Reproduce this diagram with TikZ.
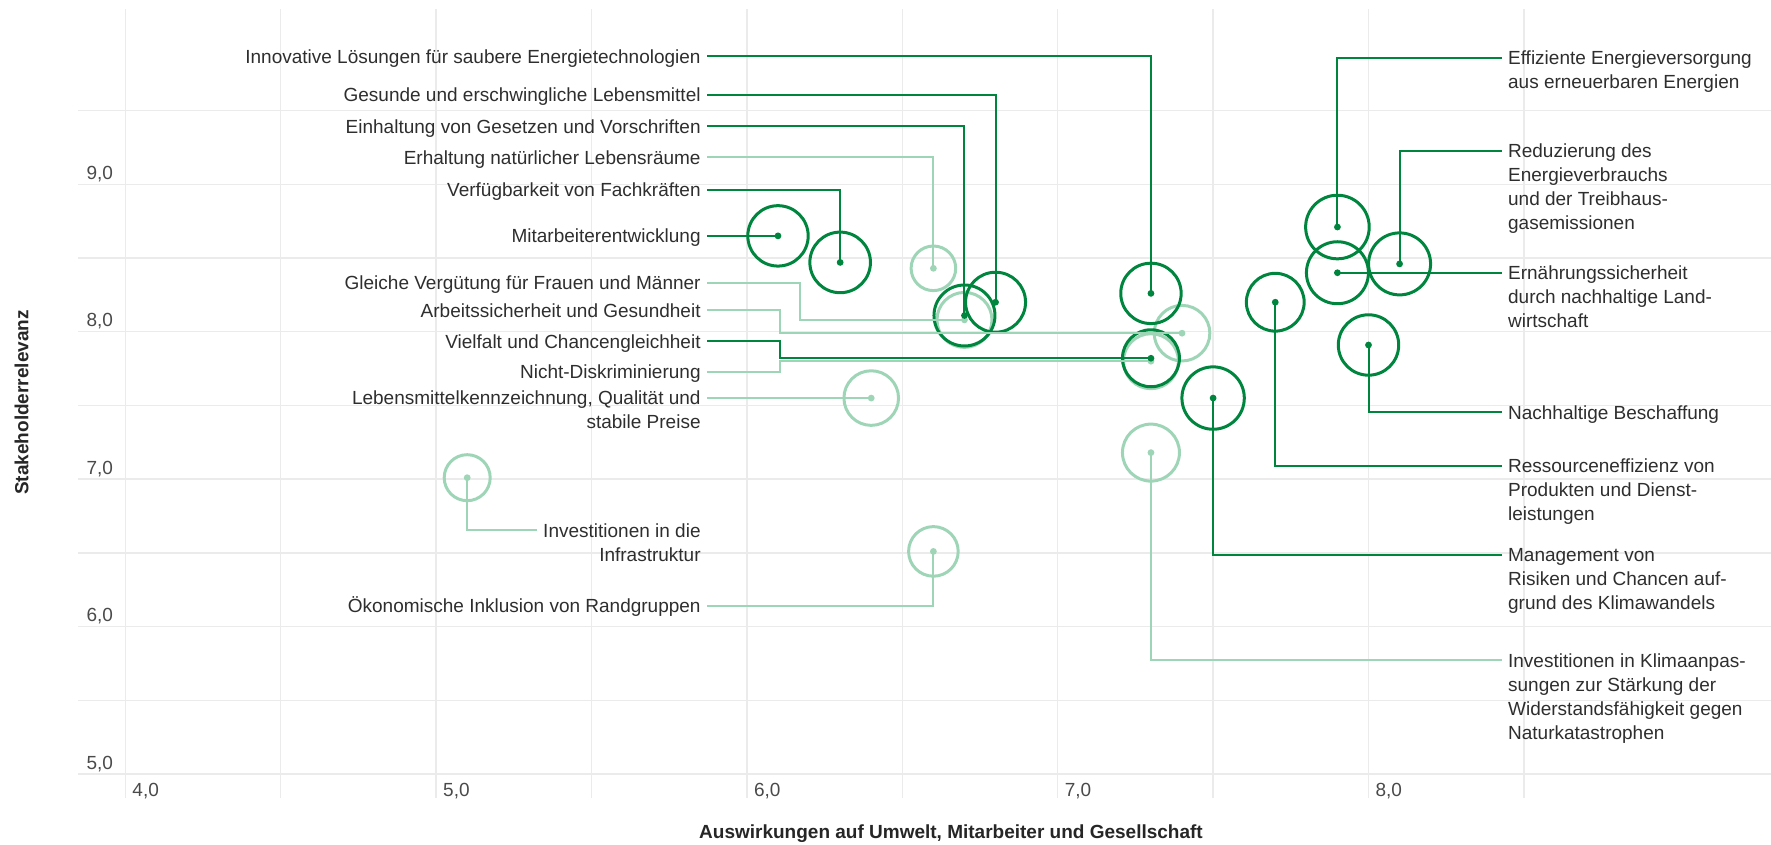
\documentclass[tikz,border=0pt]{standalone}
\usepackage{fontspec}
\setmainfont{Liberation Sans}
\usepackage{tikz}
\usepackage{xcolor}
\definecolor{dkgreen}{HTML}{00853E}
\definecolor{ltgreen}{HTML}{9FD5B7}
\definecolor{gridgray}{HTML}{EBEBEB}
\definecolor{txtgray}{HTML}{2E2E2E}
\definecolor{tickgray}{HTML}{4A4A4A}
\newcommand{\leftlines}[1]{\begin{tabular}[t]{@{}r@{}}#1\end{tabular}}
\newcommand{\rightlines}[1]{\begin{tabular}[t]{@{}l@{}}#1\end{tabular}}

\begin{document}
\begin{tikzpicture}[x=155.4pt,y=73.725pt,
  font=\fontsize{9.5}{12}\selectfont,text=txtgray,
  gridln/.style={gridgray,line width=0.75pt},
  dkbub/.style={circle,draw=dkgreen,line width=1.5pt,inner sep=0pt,minimum size=#1},
  ltbub/.style={circle,draw=ltgreen,line width=1.5pt,inner sep=0pt,minimum size=#1},
  dkln/.style={dkgreen,line width=1pt},
  ltln/.style={ltgreen,line width=1pt},
  ltxt/.style={anchor=base east,yshift=-3.4pt,inner xsep=3pt,inner ysep=0pt},
  rtxt/.style={anchor=base west,yshift=-3.4pt,inner xsep=3pt,inner ysep=0pt},
  tick/.style={text=tickgray,inner sep=0pt},
  axtitle/.style={font=\bfseries\fontsize{9.5}{12}\selectfont,text=black!85,inner sep=0pt,anchor=base}]
\useasboundingbox (3.5968,4.5191) rectangle (9.2951,10.2499);

\draw[gridln] (4,4.837) -- (4,10.19);
\draw[gridln] (4.5,4.837) -- (4.5,10.19);
\draw[gridln] (5,4.837) -- (5,10.19);
\draw[gridln] (5.5,4.837) -- (5.5,10.19);
\draw[gridln] (6,4.837) -- (6,10.19);
\draw[gridln] (6.5,4.837) -- (6.5,10.19);
\draw[gridln] (7,4.837) -- (7,10.19);
\draw[gridln] (7.5,4.837) -- (7.5,10.19);
\draw[gridln] (8,4.837) -- (8,10.19);
\draw[gridln] (8.5,4.837) -- (8.5,10.19);
\draw[gridln] (3.847,5) -- (9.2951,5);
\draw[gridln] (3.847,5.5) -- (9.2951,5.5);
\draw[gridln] (3.847,6) -- (9.2951,6);
\draw[gridln] (3.847,6.5) -- (9.2951,6.5);
\draw[gridln] (3.847,7) -- (9.2951,7);
\draw[gridln] (3.847,7.5) -- (9.2951,7.5);
\draw[gridln] (3.847,8) -- (9.2951,8);
\draw[gridln] (3.847,8.5) -- (9.2951,8.5);
\draw[gridln] (3.847,9) -- (9.2951,9);
\draw[gridln] (3.847,9.5) -- (9.2951,9.5);

\node[tick,anchor=base east] (y5) at (3.9614,5.034) {5,0};
\node[tick,anchor=base east] (y6) at (3.9614,6.034) {6,0};
\node[tick,anchor=base east] (y7) at (3.9614,7.034) {7,0};
\node[tick,anchor=base east] (y8) at (3.9614,8.034) {8,0};
\node[tick,anchor=base east] (y9) at (3.9614,9.034) {9,0};
\node[tick,anchor=base west] (x4) at (4.0216,4.8467) {4,0};
\node[tick,anchor=base west] (x5) at (5.0216,4.8467) {5,0};
\node[tick,anchor=base west] (x6) at (6.0216,4.8467) {6,0};
\node[tick,anchor=base west] (x7) at (7.0216,4.8467) {7,0};
\node[tick,anchor=base west] (x8) at (8.0216,4.8467) {8,0};
\node[axtitle] (xtitle) at (6.6567,4.5619) {Auswirkungen auf Umwelt, Mitarbeiter und Gesellschaft};
\node[axtitle,rotate=90] (ytitle) at (3.6879,7.52) {Stakeholderrelevanz};

\node[ltbub=22.3pt] (natur) at (6.6,8.43) {};
\node[ltbub=27.5pt] (verguet) at (6.7,8.08) {};
\node[ltbub=27.8pt] (arbsich) at (7.4,7.99) {};
\node[ltbub=27.5pt] (diskr) at (7.3,7.8) {};
\node[ltbub=27.3pt] (kennz) at (6.4,7.55) {};
\node[ltbub=23pt] (infra) at (5.1,7.01) {};
\node[ltbub=24.8pt] (inklus) at (6.6,6.51) {};
\node[ltbub=28.5pt] (klimaanp) at (7.3,7.18) {};

\node[dkbub=30.2pt] (inno) at (7.3,8.26) {};
\node[dkbub=30pt] (gesund) at (6.8,8.2) {};
\node[dkbub=30.5pt] (gesetz) at (6.7,8.11) {};
\node[dkbub=30.3pt] (fachkr) at (6.3,8.47) {};
\node[dkbub=30.2pt] (mitarb) at (6.1,8.65) {};
\node[dkbub=28.5pt] (vielfalt) at (7.3,7.82) {};
\node[dkbub=31.8pt] (effiz) at (7.9,8.71) {};
\node[dkbub=31pt] (reduz) at (8.1,8.46) {};
\node[dkbub=31pt] (ernaehr) at (7.9,8.4) {};
\node[dkbub=30.2pt] (beschaff) at (8,7.91) {};
\node[dkbub=28.9pt] (ressour) at (7.7,8.2) {};
\node[dkbub=31.2pt] (klimarisk) at (7.5,7.55) {};

\node[ltxt] (innotxt) at (5.8716,9.8667) {Innovative Lösungen für saubere Energietechnologien};
\node[ltxt] (gesundtxt) at (5.8716,9.6056) {Gesunde und erschwingliche Lebensmittel};
\node[ltxt] (gesetztxt) at (5.8716,9.3934) {Einhaltung von Gesetzen und Vorschriften};
\node[ltxt] (naturtxt) at (5.8716,9.1831) {Erhaltung natürlicher Lebensräume};
\node[ltxt] (fachkrtxt) at (5.8716,8.9613) {Verfügbarkeit von Fachkräften};
\node[ltxt] (mitarbtxt) at (5.8716,8.65) {Mitarbeiterentwicklung};
\node[ltxt] (verguettxt) at (5.8716,8.3306) {Gleiche Vergütung für Frauen und Männer};
\node[ltxt] (arbsichtxt) at (5.8716,8.1455) {Arbeitssicherheit und Gesundheit};
\node[ltxt] (vielfalttxt) at (5.8716,7.9352) {Vielfalt und Chancengleichheit};
\node[ltxt] (diskrtxt) at (5.8716,7.727) {Nicht-Diskriminierung\ };
\node[ltxt] (kennztxt) at (5.8716,7.55) {\leftlines{Lebensmittelkennzeichnung, Qualität und\\stabile Preise}};
\node[ltxt] (infratxt) at (5.8716,6.6534) {\leftlines{Investitionen in die\\Infrastruktur}};
\node[ltxt] (inklustxt) at (5.8716,6.14) {Ökonomische Inklusion von Randgruppen};

\node[rtxt] (effiztxt) at (8.4286,9.8586) {\rightlines{Effiziente Energieversorgung\\aus erneuerbaren Energien}};
\node[rtxt] (reduztxt) at (8.4286,9.2279) {\rightlines{Reduzierung des\\Energieverbrauchs\\und der Treibhaus-\\gasemissionen}};
\node[rtxt] (ernaehrtxt) at (8.4286,8.4) {\rightlines{Ernährungssicherheit\\durch nachhaltige Land-\\wirtschaft}};
\node[rtxt] (beschafftxt) at (8.4286,7.4537) {Nachhaltige Beschaffung};
\node[rtxt] (ressourtxt) at (8.4286,7.0895) {\rightlines{Ressourceneffizienz von\\Produkten und Dienst-\\leistungen}};
\node[rtxt] (klimarisktxt) at (8.4286,6.4859) {\rightlines{Management von\\Risiken und Chancen auf-\\grund des Klimawandels}};
\node[rtxt] (klimaanptxt) at (8.4286,5.7718) {\rightlines{Investitionen in Klimaanpas-\\sungen zur Stärkung der\\Widerstandsfähigkeit gegen\\Naturkatastrophen}};

\draw[ltln] ([yshift=3.4pt]naturtxt.base east) -| (natur.center);
\draw[ltln] (verguet.center) -| (6.17,8.3306) -- ([yshift=3.4pt]verguettxt.base east);
\draw[ltln] (arbsich.center) -| (6.108,8.1455) -- ([yshift=3.4pt]arbsichtxt.base east);
\draw[ltln] (diskr.center) -| (6.108,7.727) -- ([yshift=3.4pt]diskrtxt.base east);
\draw[ltln] ([yshift=3.4pt]kennztxt.base east) -| (kennz.center);
\draw[ltln] (infra.center) |- ([yshift=3.4pt]infratxt.base west);
\draw[ltln] ([yshift=3.4pt]inklustxt.base east) -| (inklus.center);
\draw[ltln] (klimaanp.center) |- ([yshift=3.4pt]klimaanptxt.base west);
\fill[ltgreen] (natur) circle (1.7pt);
\fill[ltgreen] (verguet) circle (1.7pt);
\fill[ltgreen] (arbsich) circle (1.7pt);
\fill[ltgreen] (diskr) circle (1.7pt);
\fill[ltgreen] (kennz) circle (1.7pt);
\fill[ltgreen] (infra) circle (1.7pt);
\fill[ltgreen] (inklus) circle (1.7pt);
\fill[ltgreen] (klimaanp) circle (1.7pt);

\draw[dkln] ([yshift=3.4pt]innotxt.base east) -| (inno.center);
\draw[dkln] ([yshift=3.4pt]gesundtxt.base east) -| (gesund.center);
\draw[dkln] ([yshift=3.4pt]gesetztxt.base east) -| (gesetz.center);
\draw[dkln] ([yshift=3.4pt]fachkrtxt.base east) -| (fachkr.center);
\draw[dkln] ([yshift=3.4pt]mitarbtxt.base east) -- (mitarb.center);
\draw[dkln] (vielfalt.center) -| (6.108,7.9352) -- ([yshift=3.4pt]vielfalttxt.base east);
\draw[dkln] (effiz.center) |- ([yshift=3.4pt]effiztxt.base west);
\draw[dkln] (reduz.center) |- ([yshift=3.4pt]reduztxt.base west);
\draw[dkln] (ernaehr.center) -- ([yshift=3.4pt]ernaehrtxt.base west);
\draw[dkln] (beschaff.center) |- ([yshift=3.4pt]beschafftxt.base west);
\draw[dkln] (ressour.center) |- ([yshift=3.4pt]ressourtxt.base west);
\draw[dkln] (klimarisk.center) |- ([yshift=3.4pt]klimarisktxt.base west);
\fill[dkgreen] (inno) circle (1.7pt);
\fill[dkgreen] (gesund) circle (1.7pt);
\fill[dkgreen] (gesetz) circle (1.7pt);
\fill[dkgreen] (fachkr) circle (1.7pt);
\fill[dkgreen] (mitarb) circle (1.7pt);
\fill[dkgreen] (vielfalt) circle (1.7pt);
\fill[dkgreen] (effiz) circle (1.7pt);
\fill[dkgreen] (reduz) circle (1.7pt);
\fill[dkgreen] (ernaehr) circle (1.7pt);
\fill[dkgreen] (beschaff) circle (1.7pt);
\fill[dkgreen] (ressour) circle (1.7pt);
\fill[dkgreen] (klimarisk) circle (1.7pt);

\end{tikzpicture}
\end{document}
